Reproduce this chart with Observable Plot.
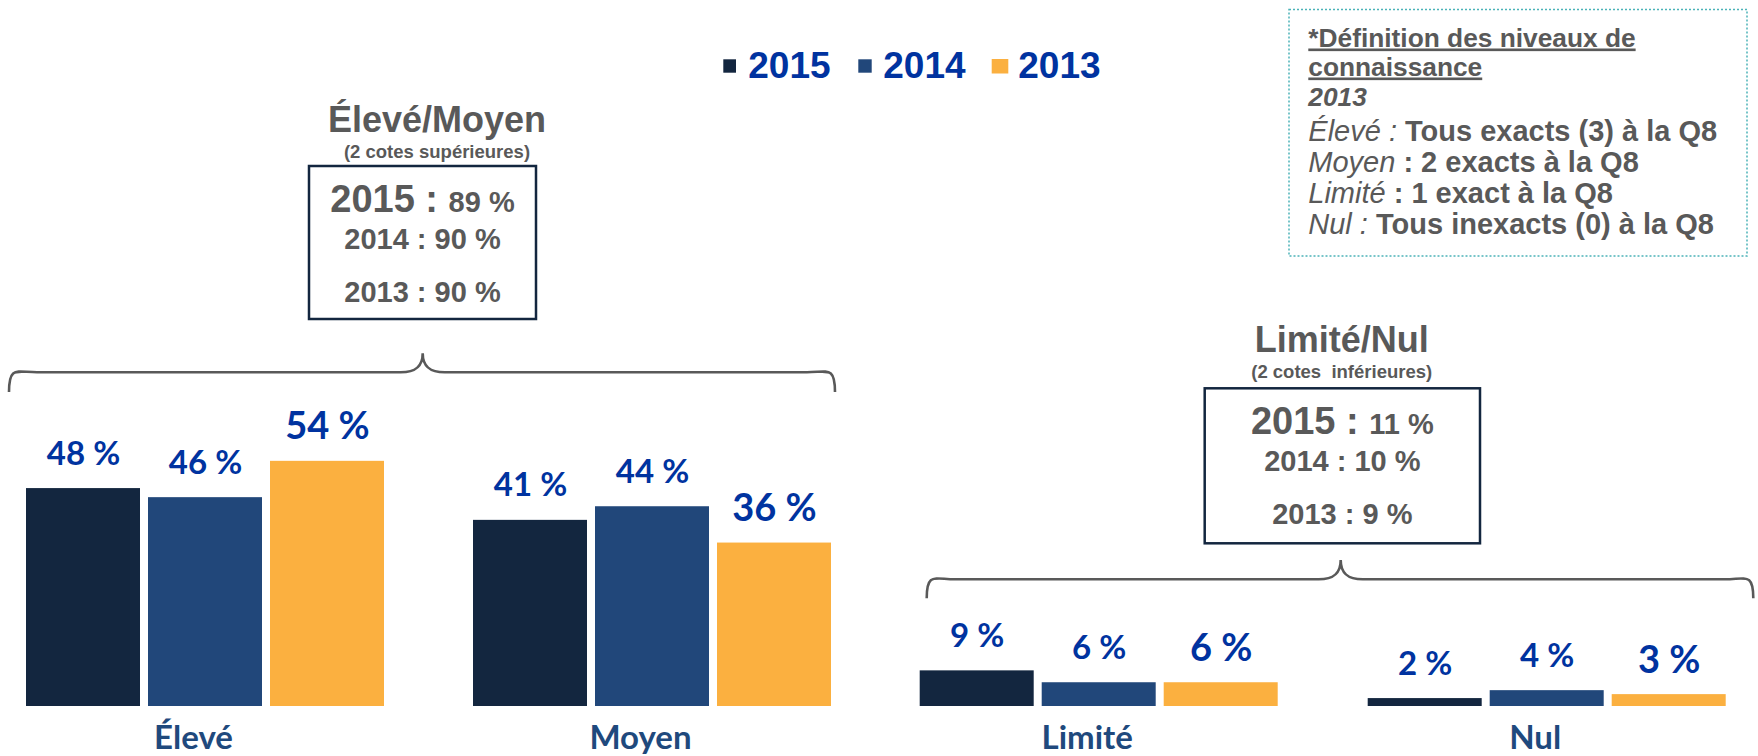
<!DOCTYPE html>
<html><head><meta charset="utf-8">
<script src="https://cdn.jsdelivr.net/npm/d3@7"></script>
<script src="https://cdn.jsdelivr.net/npm/@observablehq/plot@0.6"></script>
<style>
html,body{margin:0;padding:0;background:#fff;}
#page{position:relative;width:1758px;height:756px;overflow:hidden;font-family:"Liberation Sans",Arial,sans-serif;}
#left{position:absolute;left:0;top:400px;width:860px;height:356px;}
#right{position:absolute;left:880px;top:600px;width:878px;height:156px;}
#overlay{position:absolute;left:0;top:0;}
#left svg,#right svg{max-width:none;display:block;}
</style></head><body>
<div id="page"><div id="left"></div><div id="right"></div><svg id="overlay" width="1758" height="756" xmlns="http://www.w3.org/2000/svg"></svg></div>
<script>
// ---- data ----
const years = ["2015", "2014", "2013"];
const yearColors = ["#13263f", "#21477a", "#fbb040"];
const highCategories = ["Élevé", "Moyen"];
const lowCategories = ["Limité", "Nul"];
const eleve = [48, 46, 54];
const moyen = [41, 44, 36];
const limite = [9, 6, 6];
const nul = [2, 4, 3];
const highTotals = [89, 90, 90];
const lowTotals = [11, 10, 9];
const highTitle = "Élevé/Moyen";
const highSubtitle = "(2 cotes supérieures)";
const lowTitle = "Limité/Nul";
const lowSubtitle = "(2 cotes  inférieures)";

function toRows(cats, series) {
  return cats.flatMap((c, i) => years.map((y, j) => ({cat: c, year: y, value: series[i][j]})));
}
const highRows = toRows(highCategories, [eleve, moyen]);
const lowRows = toRows(lowCategories, [limite, nul]);

const labelBlue = "#0033a0";
const catBlue = "#1f497d";

function panel(rows, cats, o) {
  return Plot.plot({
    width: o.width, height: o.height,
    marginTop: o.marginTop, marginBottom: o.marginBottom,
    marginLeft: o.marginLeft, marginRight: o.marginRight,
    style: {background: "transparent", overflow: "visible"},
    facet: {data: rows, x: "cat"},
    fx: {domain: cats, paddingInner: o.groupPad, paddingOuter: 0, axis: null, label: null},
    x: {domain: years, paddingInner: 0.0656, paddingOuter: 0, axis: null},
    y: {domain: [0, o.yMax], axis: null},
    color: {domain: years, range: yearColors},
    marks: [
      Plot.barY(rows, {x: "year", y: "value", fill: "year"}),
      Plot.text(rows, {filter: d => d.year !== "2013", x: "year", y: "value", text: d => `${d.value} %`,
        lineAnchor: "bottom", dy: -24, fill: labelBlue, fontSize: 33, fontWeight: "bold", fontFamily: "Lato"}),
      Plot.text(rows, {filter: d => d.year === "2013", x: "year", y: "value", text: d => `${d.value} %`,
        lineAnchor: "bottom", dy: -22, fill: labelBlue, fontSize: 38, fontWeight: "bold", fontFamily: "Lato"}),
      Plot.text(rows, {filter: d => d.year === "2014", x: "year", text: "cat", frameAnchor: "bottom",
        lineAnchor: "bottom", dy: 42, dx: -12, fill: catBlue, fontSize: 33, fontWeight: "bold", fontFamily: "Lato"})
    ]
  });
}

document.getElementById("left").appendChild(panel(highRows, highCategories, {
  width: 860, height: 356, marginTop: 6.36, marginBottom: 50, marginLeft: 24, marginRight: 27.3,
  groupPad: 0.1937, yMax: 66
}));
document.getElementById("right").appendChild(panel(lowRows, lowCategories, {
  width: 878, height: 156, marginTop: 7, marginBottom: 50, marginLeft: 39.3, marginRight: 30.3,
  groupPad: 0.196, yMax: 25
}));

// ---- overlay: legend, titles, summary boxes, braces, notes ----
const gray = "#595959";
const navy = "#13263f";
let s = "";
// legend
const legendSquares = [[723.3, 59.3, 12.7, 13.4], [858.3, 59.3, 13.4, 13.4], [991.7, 59, 16.6, 14.5]];
const legendTextX = [748.3, 883.3, 1018.3];
years.forEach((y, i) => {
  const [x0, y0, w, h] = legendSquares[i];
  s += `<rect x="${x0}" y="${y0}" width="${w}" height="${h}" fill="${yearColors[i]}"/>`;
  s += `<text x="${legendTextX[i]}" y="78.3" font-size="37" font-weight="bold" fill="${labelBlue}">${y}</text>`;
});
// summary blocks
function block(title, subtitle, totals, cx, titleY, box) {
  let t = "";
  t += `<text x="${cx}" y="${titleY}" text-anchor="middle" font-size="36" font-weight="bold" fill="${gray}">${title}</text>`;
  t += `<text x="${cx}" y="${titleY + 26}" text-anchor="middle" font-size="18.5" font-weight="bold" fill="${gray}" style="white-space:pre">${subtitle}</text>`;
  const [bx, by, bw, bh] = box;
  t += `<rect x="${bx}" y="${by}" width="${bw}" height="${bh}" fill="white" stroke="${navy}" stroke-width="2.5"/>`;
  const mx = bx + bw / 2;
  t += `<text x="${mx}" y="${by + 46}" text-anchor="middle" font-weight="bold" fill="${gray}" style="white-space:pre"><tspan font-size="38">${years[0]} : </tspan><tspan font-size="29">${totals[0]} %</tspan></text>`;
  t += `<text x="${mx}" y="${by + 82.5}" text-anchor="middle" font-size="29" font-weight="bold" fill="${gray}">${years[1]} : ${totals[1]} %</text>`;
  t += `<text x="${mx}" y="${by + 135.7}" text-anchor="middle" font-size="29" font-weight="bold" fill="${gray}">${years[2]} : ${totals[2]} %</text>`;
  return t;
}
s += block(highTitle, highSubtitle, highTotals, 437, 132, [309, 166, 227, 153]);
s += block(lowTitle, lowSubtitle, lowTotals, 1341.7, 351.7, [1204.7, 388.3, 275.3, 155]);
// braces
function brace(x0, x1, xm, yLine, yTip, yEnd) {
  return `<path d="M${x0},${yEnd} C${x0},${yLine - 7} ${x0 + 8},${yLine} ${x0 + 28},${yLine} L${xm - 22},${yLine} C${xm - 7},${yLine} ${xm},${yLine - 6} ${xm},${yTip} C${xm},${yLine - 6} ${xm + 7},${yLine} ${xm + 22},${yLine} L${x1 - 28},${yLine} C${x1 - 8},${yLine} ${x1},${yLine - 7} ${x1},${yEnd}" fill="none" stroke="${gray}" stroke-width="2.6"/>`;
}
s += brace(9, 835, 422.7, 372.3, 353.3, 392);
s += brace(926.7, 1753.3, 1340.7, 579.3, 560, 598.3);
// notes box
s += `<rect x="1289" y="9.5" width="458" height="246.5" fill="white" stroke="#4bb3b8" stroke-width="1.5" stroke-dasharray="2,2"/>`;
const nx = 1308.3;
s += `<g fill="${gray}">`;
s += `<text x="${nx}" y="46.5" font-size="26.3" font-weight="bold" text-decoration="underline">*Définition des niveaux de</text>`;
s += `<text x="${nx}" y="75.5" font-size="26.3" font-weight="bold" text-decoration="underline">connaissance</text>`;
s += `<text x="${nx}" y="106" font-size="26.3" font-weight="bold" font-style="italic">2013</text>`;
const noteLines = [
  ["Élevé :", " Tous exacts (3) à la Q8", 141],
  ["Moyen", " : 2 exacts à la Q8", 172],
  ["Limité", " : 1 exact à la Q8", 203],
  ["Nul :", " Tous inexacts (0) à la Q8", 234]
];
noteLines.forEach(([a, b, y]) => {
  s += `<text x="${nx}" y="${y}" font-size="29" style="white-space:pre"><tspan font-style="italic">${a}</tspan><tspan font-weight="bold">${b}</tspan></text>`;
});
s += `</g>`;
const ov = document.getElementById("overlay");
ov.setAttribute("font-family", "'Liberation Sans', Arial, sans-serif");
ov.innerHTML = s;
</script>
</body></html>
